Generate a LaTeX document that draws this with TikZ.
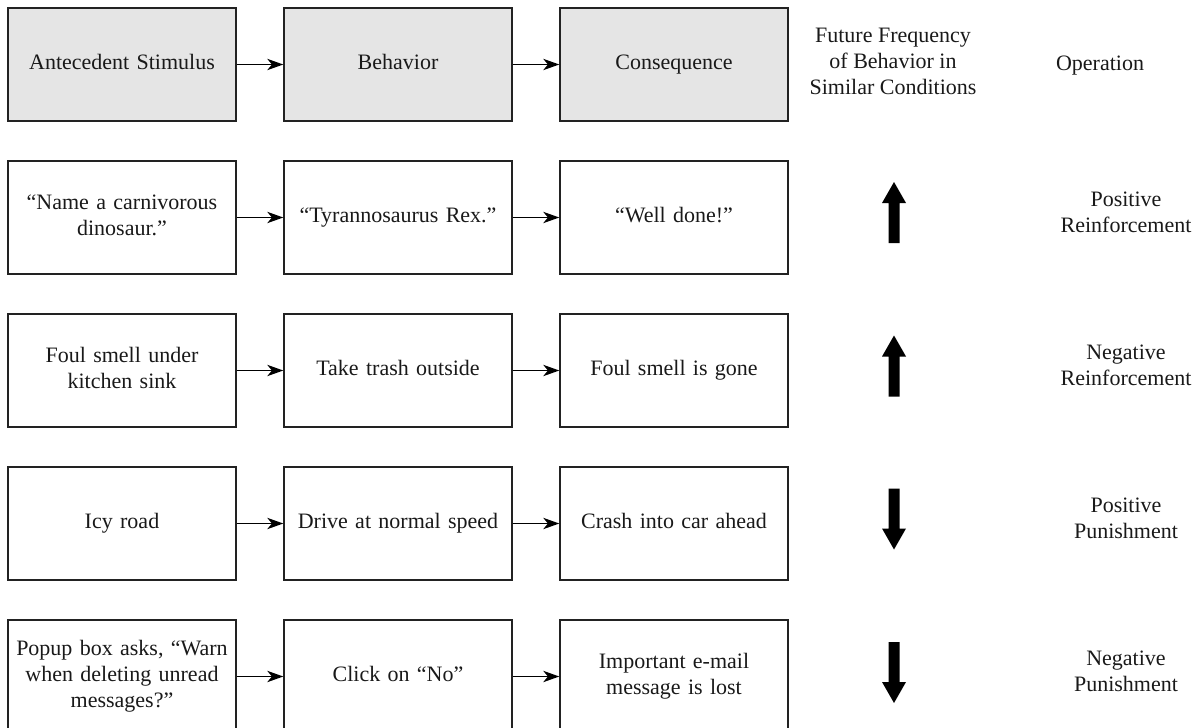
\documentclass[tikz,border=0pt]{standalone}
\usepackage{fontspec}
\setmainfont{Liberation Serif}
\usetikzlibrary{arrows.meta}
\definecolor{boxgray}{HTML}{E5E5E5}
\definecolor{edge}{HTML}{222222}
\tikzset{
  stimbox/.style={draw=edge, line width=1.1pt, minimum width=171pt, minimum height=84.75pt,
    inner sep=2pt, align=center, text width=165pt,
    font=\fontsize{16.5}{19.5}\selectfont, text=black!90,
    execute at begin node=\strut, execute at end node=\strut},
  headbox/.style={stimbox, fill=boxgray},
  flow/.style={draw=black, line width=1pt, -{Stealth[length=12pt,width=8.5pt,inset=3.5pt]}},
  lbl/.style={align=center, inner sep=0pt, font=\fontsize{16.5}{19.5}\selectfont, text=black!90,
    execute at begin node=\strut, execute at end node=\strut},
  bigarrow/.style={fill=black}
}
\newcommand{\uparr}[2]{\fill[bigarrow] (#1-5.5,#2+30.5) -- (#1-5.5,#2-9.5) -- (#1-12,#2-9.5) -- (#1,#2-30.5) -- (#1+12,#2-9.5) -- (#1+5.5,#2-9.5) -- (#1+5.5,#2+30.5) -- cycle;}
\newcommand{\downarr}[2]{\fill[bigarrow] (#1-5.5,#2-30.5) -- (#1-5.5,#2+9.5) -- (#1-12,#2+9.5) -- (#1,#2+30.5) -- (#1+12,#2+9.5) -- (#1+5.5,#2+9.5) -- (#1+5.5,#2-30.5) -- cycle;}
\begin{document}
\begin{tikzpicture}[x=0.75pt,y=-0.75pt]
\useasboundingbox (0,0) rectangle (1192,728);
\clip (0,0) rectangle (1192,728);
% header
\node[headbox] (h1) at (122,64.5) {Antecedent Stimulus};
\node[headbox] (h2) at (398,64.5) {Behavior};
\node[headbox] (h3) at (674,64.5) {Consequence};
\node[lbl] (h4) at (893,65) {Future Frequency\\of Behavior in\\Similar Conditions};
\node[lbl] (h5) at (1100,65) {Operation};
\draw[flow] (h1) -- (h2);
\draw[flow] (h2) -- (h3);
% row 1
\node[stimbox] (a1) at (122,217.5) {“Name a carnivorous\\dinosaur.”};
\node[stimbox] (b1) at (398,217.5) {“Tyrannosaurus Rex.”};
\node[stimbox] (c1) at (674,217.5) {“Well done!”};
\node[lbl] (o1) at (1126,216) {Positive\\Reinforcement};
\draw[flow] (a1) -- (b1);
\draw[flow] (b1) -- (c1);
\uparr{894}{212.5}
% row 2
\node[stimbox] (a2) at (122,370.5) {Foul smell under\\kitchen sink};
\node[stimbox] (b2) at (398,370.5) {Take trash outside};
\node[stimbox] (c2) at (674,370.5) {Foul smell is gone};
\node[lbl] (o2) at (1126,369) {Negative\\Reinforcement};
\draw[flow] (a2) -- (b2);
\draw[flow] (b2) -- (c2);
\uparr{894}{366}
% row 3
\node[stimbox] (a3) at (122,523.5) {Icy road};
\node[stimbox] (b3) at (398,523.5) {Drive at normal speed};
\node[stimbox] (c3) at (674,523.5) {Crash into car ahead};
\node[lbl] (o3) at (1126,522) {Positive\\Punishment};
\draw[flow] (a3) -- (b3);
\draw[flow] (b3) -- (c3);
\downarr{894}{519}
% row 4
\node[stimbox] (a4) at (122,676.5) {Popup box asks, “Warn\\when deleting unread\\messages?”};
\node[stimbox] (b4) at (398,676.5) {Click on “No”};
\node[stimbox] (c4) at (674,676.5) {Important e-mail\\message is lost};
\node[lbl] (o4) at (1126,675) {Negative\\Punishment};
\draw[flow] (a4) -- (b4);
\draw[flow] (b4) -- (c4);
\downarr{894}{672.5}
\end{tikzpicture}
\end{document}
